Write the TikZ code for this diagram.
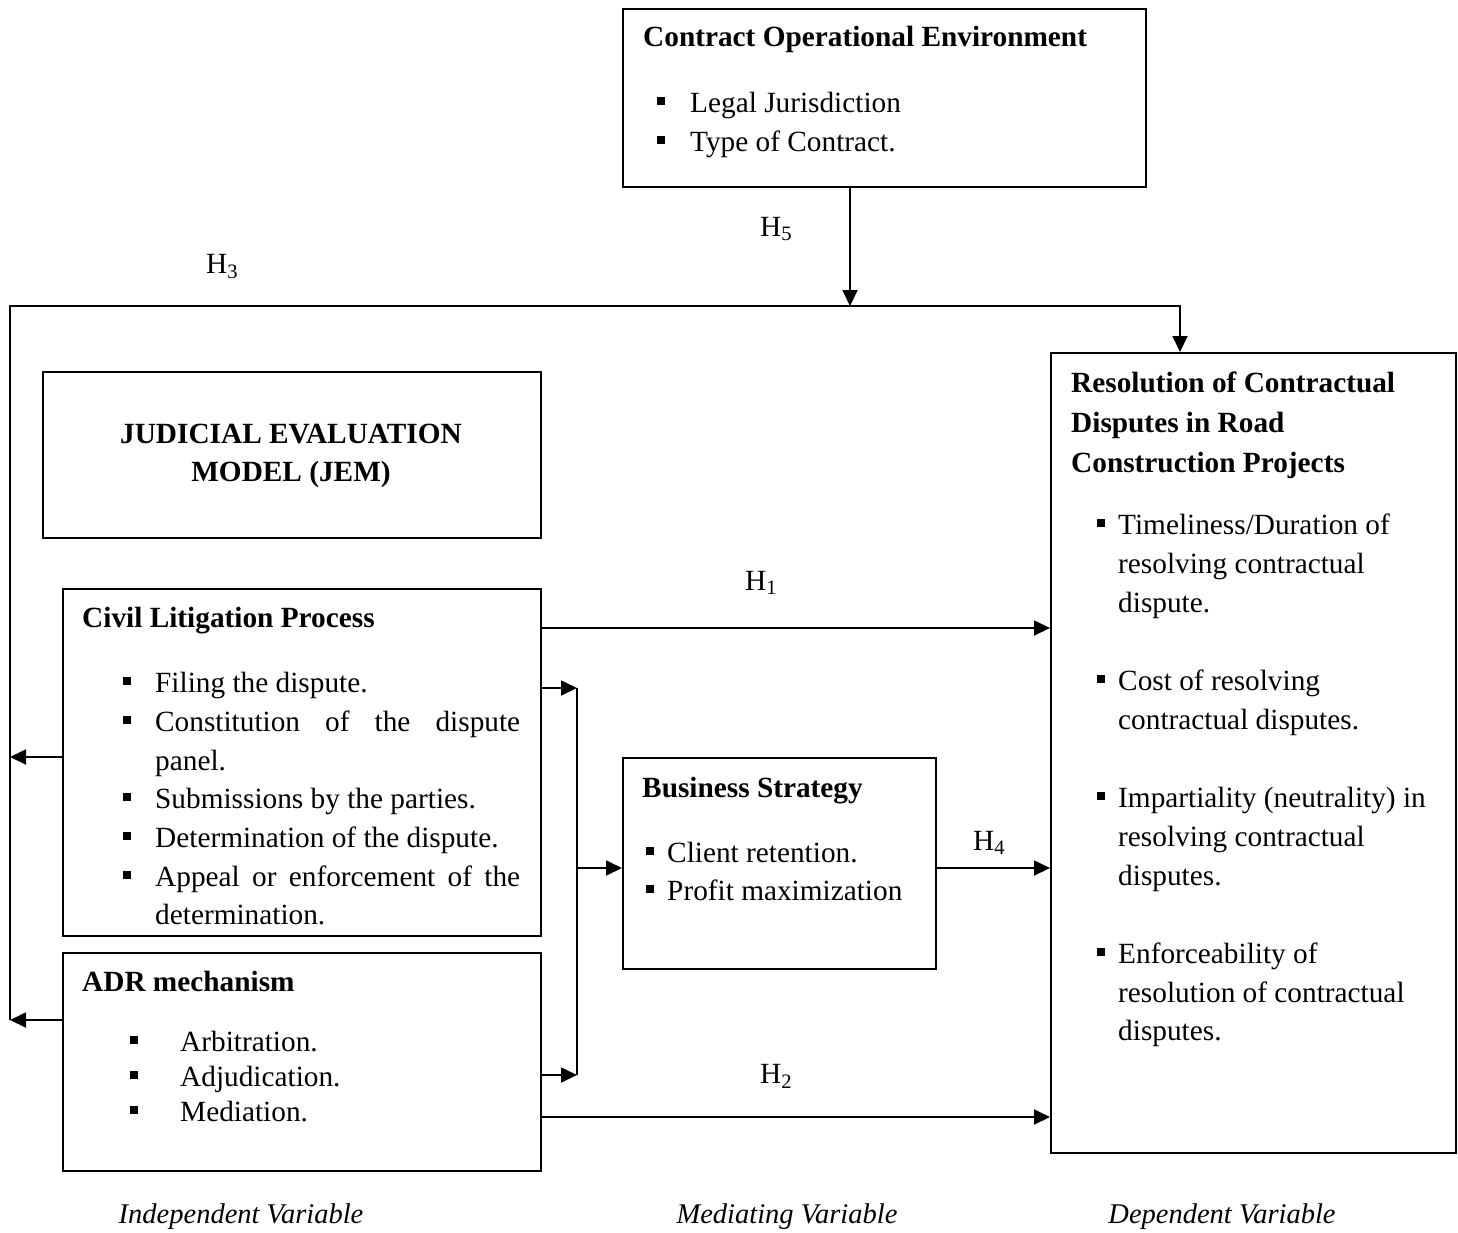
\documentclass[tikz,border=0pt]{standalone}
\usepackage{fontspec}
\setmainfont{Liberation Serif}
\usetikzlibrary{arrows.meta}
\begin{document}
\begin{tikzpicture}[x=1pt,y=-1pt,
  box/.style={draw, line width=1.6pt, rectangle, inner sep=0pt, anchor=north west},
  txt/.style={anchor=base west, inner sep=0pt, font=\fontsize{29.3}{39}\selectfont},
  btxt/.style={anchor=base west, inner sep=0pt, font=\fontsize{29.3}{39}\selectfont\bfseries},
  ctxt/.style={anchor=base, inner sep=0pt, font=\fontsize{29.3}{39}\selectfont\bfseries},
  captxt/.style={anchor=base, inner sep=0pt, font=\fontsize{28.5}{39}\selectfont\itshape},
  conn/.style={line width=1.8pt},
  arr/.style={conn, -{Triangle[length=16pt,width=15pt]}},
  bul/.style={fill, rectangle, minimum size=7.5pt, inner sep=0pt}
]
\useasboundingbox (0,0) rectangle (1458,1232);

% boxes
\node[box, minimum width=523pt, minimum height=178pt] (coe) at (622,8) {};
\node[box, minimum width=498pt, minimum height=166pt] (jem) at (42,371) {};
\node[box, minimum width=478pt, minimum height=347pt] (clp) at (62,588) {};
\node[box, minimum width=478pt, minimum height=218pt] (adr) at (62,952) {};
\node[box, minimum width=313pt, minimum height=211pt] (bs) at (622,757) {};
\node[box, minimum width=405pt, minimum height=800pt] (rcd) at (1050,352) {};

% Contract Operational Environment
\node[btxt] (coeT) at (643,46) {Contract Operational Environment};
\node[bul] (coeB1) at (661,101) {};
\node[txt] (coe1) at (690,112) {Legal Jurisdiction};
\node[bul] (coeB2) at (661,140) {};
\node[txt] (coe2) at (690,151) {Type of Contract.};

% JEM
\node[ctxt] (jem1) at (291,443) {JUDICIAL EVALUATION};
\node[ctxt] (jem2) at (291,481) {MODEL (JEM)};

% Civil Litigation Process
\node[btxt] (clpT) at (82,627) {Civil Litigation Process};
\node[bul] (clpB1) at (127,681) {};
\node[txt] (clp1) at (155,692) {Filing the dispute.};
\node[bul] (clpB2) at (127,720) {};
\node[txt] (clp2) at (155,731) {\makebox[365pt][s]{Constitution of the dispute}};
\node[txt] (clp3) at (155,770) {panel.};
\node[bul] (clpB4) at (127,797) {};
\node[txt] (clp4) at (155,808) {Submissions by the parties.};
\node[bul] (clpB5) at (127,836) {};
\node[txt] (clp5) at (155,847) {Determination of the dispute.};
\node[bul] (clpB6) at (127,875) {};
\node[txt] (clp6) at (155,886) {\makebox[365pt][s]{Appeal or enforcement of the}};
\node[txt] (clp7) at (155,924) {determination.};

% ADR mechanism
\node[btxt] (adrT) at (82,991) {ADR mechanism};
\node[bul] (adrB1) at (134,1040) {};
\node[txt] (adr1) at (180,1051) {Arbitration.};
\node[bul] (adrB2) at (134,1075) {};
\node[txt] (adr2) at (180,1086) {Adjudication.};
\node[bul] (adrB3) at (134,1110) {};
\node[txt] (adr3) at (180,1121) {Mediation.};

% Business Strategy
\node[btxt] (bsT) at (642,797) {Business Strategy};
\node[bul] (bsB1) at (650,851) {};
\node[txt] (bs1) at (667,862) {Client retention.};
\node[bul] (bsB2) at (650,889) {};
\node[txt] (bs2) at (667,900) {Profit maximization};

% Resolution of Contractual Disputes
\node[btxt] (rcdT1) at (1071,392) {Resolution of Contractual};
\node[btxt] (rcdT2) at (1071,432) {Disputes in Road};
\node[btxt] (rcdT3) at (1071,472) {Construction Projects};
\node[bul] (rcdB1) at (1101,523) {};
\node[txt] (rcd1) at (1118,534) {Timeliness/Duration of};
\node[txt] (rcd2) at (1118,573) {resolving contractual};
\node[txt] (rcd3) at (1118,612) {dispute.};
\node[bul] (rcdB2) at (1101,679) {};
\node[txt] (rcd4) at (1118,690) {Cost of resolving};
\node[txt] (rcd5) at (1118,729) {contractual disputes.};
\node[bul] (rcdB3) at (1101,796) {};
\node[txt] (rcd6) at (1118,807) {Impartiality (neutrality) in};
\node[txt] (rcd7) at (1118,846) {resolving contractual};
\node[txt] (rcd8) at (1118,885) {disputes.};
\node[bul] (rcdB4) at (1101,952) {};
\node[txt] (rcd9) at (1118,963) {Enforceability of};
\node[txt] (rcd10) at (1118,1002) {resolution of contractual};
\node[txt] (rcd11) at (1118,1040) {disputes.};

% hypothesis labels
\node[txt] (H5) at (760,236) {H\textsubscript{5}};
\node[txt] (H3) at (206,273) {H\textsubscript{3}};
\node[txt] (H1) at (745,590) {H\textsubscript{1}};
\node[txt] (H4) at (973,850) {H\textsubscript{4}};
\node[txt] (H2) at (760,1083) {H\textsubscript{2}};

% captions
\node[captxt] (capI) at (241,1223) {Independent Variable};
\node[captxt] (capM) at (787,1223) {Mediating Variable};
\node[captxt] (capD) at (1222,1223) {Dependent Variable};

% connector coordinates
\coordinate (j5) at (850,306);
\coordinate (lt) at (10,306);
\coordinate (rt) at (1180,306);
\coordinate (lb) at (10,1020);
\coordinate (lc) at (10,757);
\coordinate (y1) at (0,628);
\coordinate (y2) at (0,1117);
\coordinate (cb1) at (577,688);
\coordinate (cb2) at (577,1075);
\coordinate (cbm) at (577,868);

% connectors
\draw[arr] (j5 |- coe.south) -- (j5);
\draw[arr] (lb) -- (lt) -- (rt) -- (rt |- rcd.north);
\draw[arr] (clp.west |- lc) -- (lc);
\draw[arr] (adr.west |- lb) -- (lb);
\draw[arr] (clp.east |- y1) -- (rcd.west |- y1);
\draw[arr] (adr.east |- y2) -- (rcd.west |- y2);
\draw[arr] (clp.east |- cb1) -- (cb1);
\draw[arr] (adr.east |- cb2) -- (cb2);
\draw[conn] (cb1) -- (cb2);
\draw[arr] (cbm) -- (bs.west |- cbm);
\draw[arr] (bs.east |- cbm) -- (rcd.west |- cbm);
\end{tikzpicture}
\end{document}
